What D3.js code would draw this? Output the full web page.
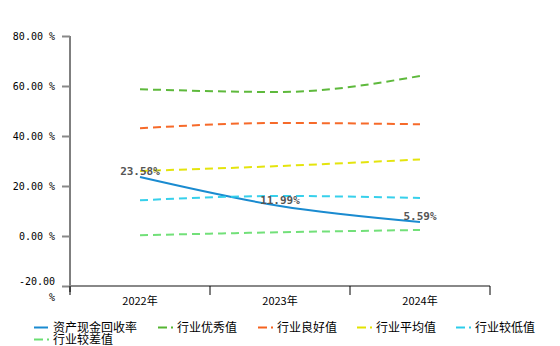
<!DOCTYPE html>
<html><head><meta charset="utf-8">
<script src="https://cdn.jsdelivr.net/npm/d3@7"></script>
<style>body{margin:0;background:#fff}svg{display:block}</style>
</head><body>
<svg id="c" width="560" height="346"></svg>
<script>
const categories = ["2022年", "2023年", "2024年"];
const seriesNames = ["资产现金回收率", "行业优秀值", "行业良好值", "行业平均值", "行业较低值", "行业较差值"];
const seriesColors = ["#1a8bd0", "#55b532", "#f5621f", "#e3e300", "#2ccdea", "#6ade72"];
const mainValues = [23.58, 11.99, 5.59];
const excellentValues = [58.7, 57.6, 64.0];
const goodValues = [43.1, 45.2, 44.7];
const averageValues = [26.0, 28.0, 30.6];
const lowValues = [14.3, 16.0, 15.2];
const poorValues = [0.3, 1.5, 2.4];
const yTicks = [-20, 0, 20, 40, 60, 80];

const allSeries = [mainValues, excellentValues, goodValues, averageValues, lowValues, poorValues];
const svg = d3.select("#c");
const x = d3.scaleBand().domain(categories).range([70, 490]);
const y = d3.scaleLinear().domain([-20, 80]).range([286, 36]);
const mono = "'DejaVu Sans Mono', monospace";

// y axis
const yAxis = svg.append("g").attr("transform", "translate(70,0)")
  .call(d3.axisLeft(y).tickValues(yTicks).tickSize(8).tickFormat(d => d.toFixed(2) + " %"));
yAxis.select(".domain").attr("stroke", "#000").attr("d", "M0,36V292");
yAxis.selectAll(".tick line").attr("stroke", "#888").attr("stroke-width", 2);
yAxis.selectAll(".tick text").attr("font-family", mono).attr("font-size", 10).attr("fill", "#000").attr("x", -15);
yAxis.selectAll(".tick").filter(d => d === -20).select("text").each(function(d){
  const t = d3.select(this); t.text(null).attr("dy", null);
  t.append("tspan").attr("x", -15).attr("y", -1.5).text(d.toFixed(2));
  t.append("tspan").attr("x", -15).attr("y", 14.5).text("%");
});

// x axis
const xAxis = svg.append("g").attr("transform", "translate(0,286)")
  .call(d3.axisBottom(x).tickSize(0).tickPadding(11));
xAxis.select(".domain").attr("stroke", "#888").attr("stroke-width", 2).attr("d", "M70,0H490");
xAxis.selectAll(".tick text").attr("font-family", "'Noto Sans CJK SC', sans-serif").attr("font-size", 11).attr("fill", "#000");
const bounds = categories.map(c => x(c)).concat([x(categories[categories.length-1]) + x.bandwidth()]);
svg.append("g").selectAll("line").data(bounds).join("line")
  .attr("x1", d => d).attr("x2", d => d).attr("y1", 286).attr("y2", 295)
  .attr("stroke", "#000").attr("stroke-width", 1);

// lines
const line = d3.line().x((d, i) => x(categories[i]) + x.bandwidth()/2).y(d => y(d)).curve(d3.curveMonotoneX);
allSeries.forEach((vals, i) => {
  svg.append("path").attr("d", line(vals)).attr("fill", "none")
    .attr("stroke", seriesColors[i]).attr("stroke-width", 2)
    .attr("stroke-dasharray", i === 0 ? null : "8,5")
    .attr("opacity", i === 0 ? 1 : 0.95);
});

// labels
svg.append("g").selectAll("text").data(mainValues).join("text")
  .attr("x", (d, i) => x(categories[i]) + x.bandwidth()/2)
  .attr("y", d => y(d) - 2)
  .attr("text-anchor", "middle")
  .attr("font-family", mono).attr("font-size", 11).attr("font-weight", "bold").attr("fill", "#555")
  .text(d => d.toFixed(2) + "%");

// legend
const legendPos = [[34, 327.5], [158, 327.5], [258, 327.5], [357, 327.5], [456, 327.5], [34, 339.5]];
const lg = svg.append("g");
seriesNames.forEach((name, i) => {
  const [lx, ly] = legendPos[i];
  const g = lg.append("g").attr("transform", `translate(${lx},${ly})`);
  if (i === 0) {
    g.append("line").attr("x1", 0).attr("x2", 14).attr("y1", 0).attr("y2", 0)
      .attr("stroke", seriesColors[i]).attr("stroke-width", 2);
  } else {
    g.append("line").attr("x1", 0).attr("x2", 9).attr("y1", 0).attr("y2", 0)
      .attr("stroke", seriesColors[i]).attr("stroke-width", 2);
    g.append("line").attr("x1", 13).attr("x2", 15).attr("y1", 0).attr("y2", 0)
      .attr("stroke", seriesColors[i]).attr("stroke-width", 2);
  }
  g.append("text").attr("x", 19).attr("y", 0).attr("dy", "0.35em")
    .attr("font-family", "'Noto Sans CJK SC', sans-serif").attr("font-size", 12).attr("fill", "#000")
    .text(name);
});
</script>
</body></html>
